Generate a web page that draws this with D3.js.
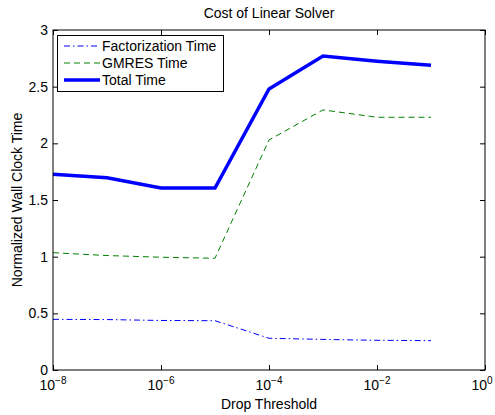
<!DOCTYPE html>
<html>
<head>
<meta charset="utf-8">
<script src="https://cdn.jsdelivr.net/npm/d3@7"></script>
<style>
body { margin: 0; background: #fff; }
svg text { font-family: "Liberation Sans", Arial, sans-serif; }
</style>
</head>
<body>
<svg id="chart" width="495" height="415"></svg>
<script>
// data
var thresholds = [1e-8, 1e-7, 1e-6, 1e-5, 1e-4, 1e-3, 1e-2, 1e-1];
var factTime = [0.447, 0.445, 0.437, 0.435, 0.28, 0.27, 0.262, 0.259];
var gmresTime = [1.035, 1.01, 0.995, 0.986, 2.03, 2.295, 2.23, 2.23];
var totalTime = [1.727, 1.697, 1.606, 1.606, 2.48, 2.77, 2.725, 2.69];
var seriesNames = ["Factorization Time", "GMRES Time", "Total Time"];
var xTicks = [1e-8, 1e-6, 1e-4, 1e-2, 1e0];
var yTicks = [0, 0.5, 1, 1.5, 2, 2.5, 3];

var plotLeft = 53, plotRight = 485, plotTop = 30, plotBottom = 370;
var fs = 14;
var svg = d3.select('#chart');

var x = d3.scaleLog().domain([1e-8, 1e0]).range([plotLeft, plotRight]);
var y = d3.scaleLinear().domain([0, 3]).range([plotBottom, plotTop]);

var styles = [
  {color: '#0000ff', width: 1, dash: '6,3,1.5,3'},
  {color: '#008000', width: 1, dash: '6,4'},
  {color: '#0000ff', width: 3.5, dash: null}
];
var allSeries = [factTime, gmresTime, totalTime];

// ticks (inward, all four sides)
var tl = 5;
function noDomain(g){ g.select('.domain').remove(); }
svg.append('g').attr('transform', 'translate(0,' + plotBottom + ')')
  .call(d3.axisBottom(x).tickValues(xTicks).tickSizeInner(-tl).tickSizeOuter(0).tickFormat(''))
  .call(noDomain);
svg.append('g').attr('transform', 'translate(0,' + plotTop + ')')
  .call(d3.axisTop(x).tickValues(xTicks).tickSizeInner(-tl).tickSizeOuter(0).tickFormat(''))
  .call(noDomain);
svg.append('g').attr('transform', 'translate(' + plotLeft + ',0)')
  .call(d3.axisLeft(y).tickValues(yTicks).tickSizeInner(-tl).tickSizeOuter(0).tickFormat(''))
  .call(noDomain);
svg.append('g').attr('transform', 'translate(' + plotRight + ',0)')
  .call(d3.axisRight(y).tickValues(yTicks).tickSizeInner(-tl).tickSizeOuter(0).tickFormat(''))
  .call(noDomain);
svg.selectAll('.tick line').attr('stroke', '#000');

// tick labels
yTicks.forEach(function(v){
  svg.append('text').attr('x', plotLeft - 5).attr('y', y(v) + 5)
    .attr('text-anchor', 'end').attr('font-size', fs).text(v);
});
xTicks.forEach(function(v, i){
  var shift = (i === xTicks.length - 1) ? -3 : 0;
  var t = svg.append('text').attr('x', x(v) + shift).attr('y', plotBottom + 20)
    .attr('text-anchor', 'middle').attr('font-size', fs);
  t.append('tspan').text('10');
  t.append('tspan').attr('dy', -6).attr('font-size', 10).text(String(Math.round(Math.log10(v))).replace('-', '\u2212'));
});

// lines
var line = d3.line().x(function(d, i){ return x(thresholds[i]); }).y(function(d){ return y(d); });
allSeries.forEach(function(s, k){
  svg.append('path').datum(s).attr('d', line)
    .attr('fill', 'none').attr('stroke', styles[k].color)
    .attr('stroke-width', styles[k].width)
    .attr('stroke-dasharray', styles[k].dash);
});

// frame
svg.append('rect').attr('x', plotLeft).attr('y', plotTop)
  .attr('width', plotRight - plotLeft).attr('height', plotBottom - plotTop)
  .attr('fill', 'none').attr('stroke', '#000').attr('stroke-width', 1);

// legend
var lg = svg.append('g');
lg.append('rect').attr('x', 57.5).attr('y', 35.5).attr('width', 166).attr('height', 56)
  .attr('fill', '#fff').attr('stroke', '#000');
seriesNames.forEach(function(n, k){
  var yy = 46 + k * 17;
  lg.append('line').attr('x1', 64).attr('x2', 100).attr('y1', yy).attr('y2', yy)
    .attr('stroke', styles[k].color).attr('stroke-width', styles[k].width)
    .attr('stroke-dasharray', styles[k].dash);
  lg.append('text').attr('x', 102).attr('y', yy + 5).attr('font-size', fs).text(n);
});

// titles
svg.append('text').attr('x', 269).attr('y', 18).attr('text-anchor', 'middle')
  .attr('font-size', fs).text('Cost of Linear Solver');
svg.append('text').attr('x', 269).attr('y', 409).attr('text-anchor', 'middle')
  .attr('font-size', fs).text('Drop Threshold');
svg.append('text').attr('transform', 'translate(22,200) rotate(-90)')
  .attr('text-anchor', 'middle').attr('font-size', fs).text('Normalized Wall Clock Time');
</script>
</body>
</html>
